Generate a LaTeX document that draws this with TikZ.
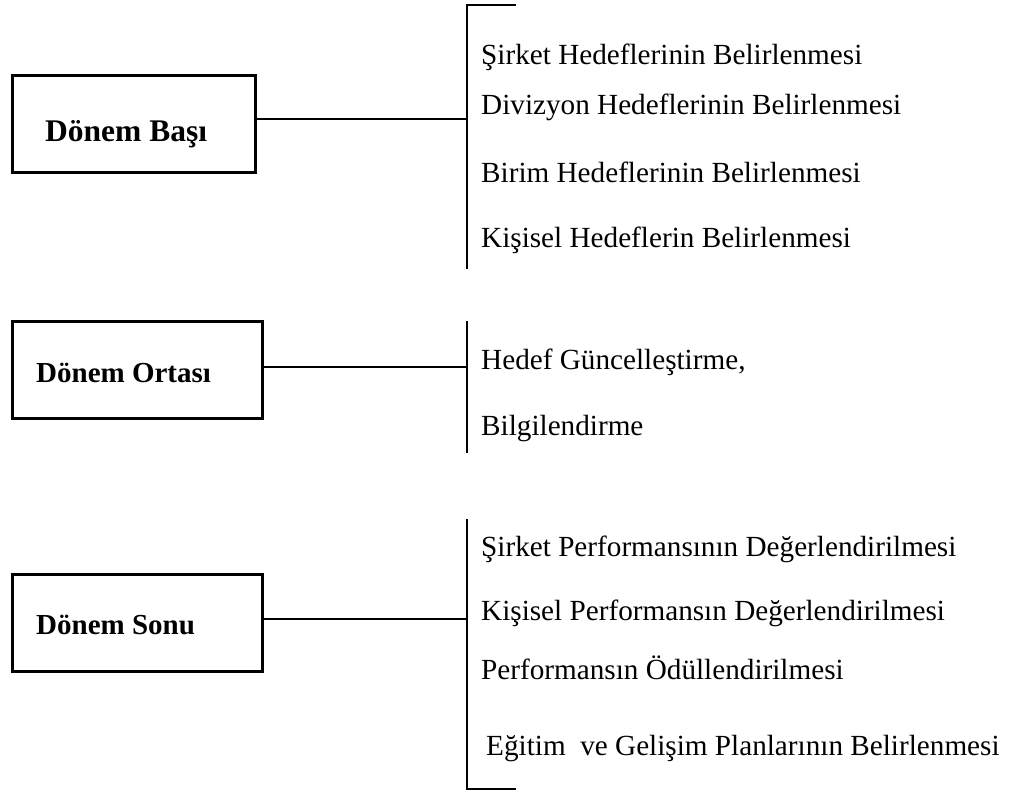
\documentclass[tikz,border=0pt]{standalone}
\usepackage{fontspec}
\setmainfont{Liberation Serif}
\begin{document}
\begin{tikzpicture}[x=1pt,y=-1pt,
  box/.style={draw,line width=2.6pt,minimum width=#1,minimum height=97pt,inner sep=0pt,anchor=north west},
  title/.style={font=\bfseries\fontsize{29}{34}\selectfont,anchor=base west,inner sep=0pt},
  item/.style={font=\fontsize{29.2}{35}\selectfont,anchor=base west,inner sep=0pt},
  link/.style={line width=2pt},
  brk/.style={line width=2pt}]
\useasboundingbox (0,0) rectangle (1009,794);
% boxes
\node[box=243pt] (b1) at (11,74) {};
\node[box=250pt] (b2) at (11,320) {};
\node[box=250pt] (b3) at (11,573) {};
\node[title,font=\bfseries\fontsize{31.5}{36}\selectfont] (t1) at (45,142) {Dönem Başı};
\node[title] (t2) at (36,382) {Dönem Ortası};
\node[title] (t3) at (36,634) {Dönem Sonu};
% brackets
\coordinate (a0) at (516,5);
\coordinate (a1) at (467,5);
\coordinate (a2) at (467,269);
\coordinate (am) at (467,119);
\coordinate (c1) at (467,321);
\coordinate (c2) at (467,453);
\coordinate (cm) at (467,367);
\coordinate (d1) at (467,519);
\coordinate (d2) at (467,789);
\coordinate (d3) at (516,789);
\coordinate (dm) at (467,619);
\draw[brk] (a0) -- (a1) -- (a2);
\draw[brk] (c1) -- (c2);
\draw[brk] (d1) -- (d2) -- (d3);
\draw[link] (b1.east |- am) -- (am);
\draw[link] (b2.east |- cm) -- (cm);
\draw[link] (b3.east |- dm) -- (dm);
% items
\node[item] (i1) at (481,65) {Şirket Hedeflerinin Belirlenmesi};
\node[item] (i2) at (481,115) {Divizyon Hedeflerinin Belirlenmesi};
\node[item] (i3) at (481,183) {Birim Hedeflerinin Belirlenmesi};
\node[item] (i4) at (481,248) {Kişisel Hedeflerin Belirlenmesi};
\node[item] (i5) at (481,369) {Hedef Güncelleştirme,};
\node[item] (i6) at (481,435) {Bilgilendirme};
\node[item] (i7) at (481,556) {Şirket Performansının Değerlendirilmesi};
\node[item] (i8) at (481,620) {Kişisel Performansın Değerlendirilmesi};
\node[item] (i9) at (481,679) {Performansın Ödüllendirilmesi};
\node[item] (i10) at (486,755) {Eğitim\ \ ve Gelişim Planlarının Belirlenmesi};
\end{tikzpicture}
\end{document}
